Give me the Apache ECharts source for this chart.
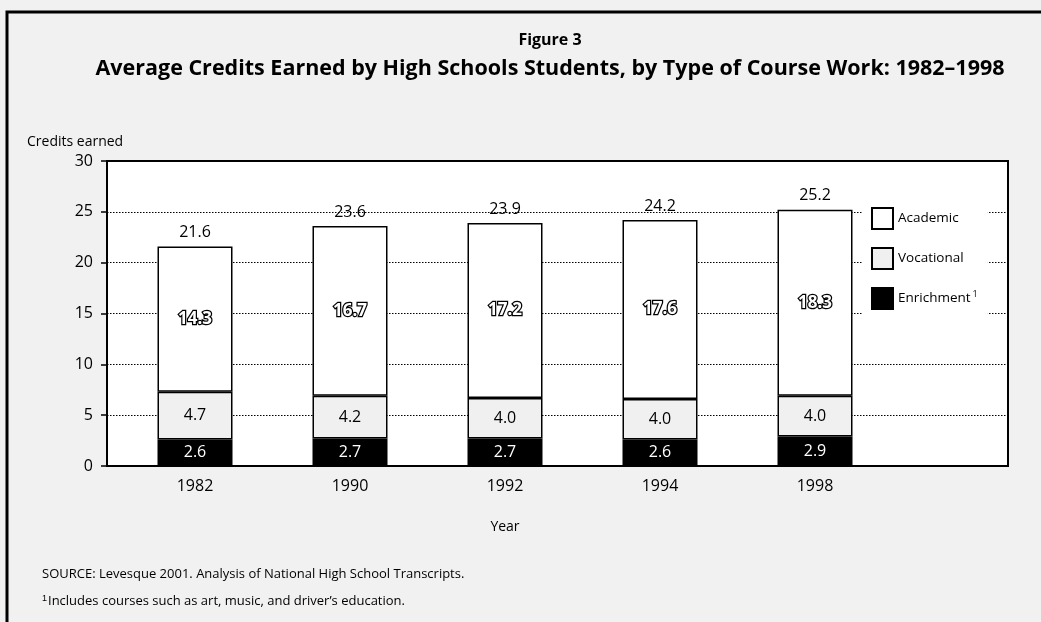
<!DOCTYPE html>
<html>
<head>
<meta charset="utf-8">
<style>
  html, body { margin: 0; padding: 0; background: #f1f1f1; }
  #chart { width: 1041px; height: 622px; }
</style>
<script src="https://cdn.jsdelivr.net/npm/echarts@6/dist/echarts.min.js"></script>
</head>
<body>
<div id="chart"></div>
<script>
// data
const years = ['1982', '1990', '1992', '1994', '1998'];
const enrichment = [2.6, 2.7, 2.7, 2.6, 2.9];
const vocational = [4.7, 4.2, 4.0, 4.0, 4.0];
const academic = [14.3, 16.7, 17.2, 17.6, 18.3];
const totals = [21.6, 23.6, 23.9, 24.2, 25.2];
const yTicks = [0, 5, 10, 15, 20, 25, 30];

const FONT = '"Open Sans", "Noto Sans", sans-serif';

let mychart = echarts.init(document.getElementById('chart'), null, { renderer: 'canvas' });

mychart.setOption({
    backgroundColor: '#f1f1f1',
    textStyle: { fontFamily: FONT, color: '#000' },
    animation: false,
    title: [
        {
            text: 'Figure 3',
            left: 545,
            textAlign: 'center',
            top: 27,
            textStyle: { fontSize: 16, fontWeight: 'bold', color: '#000', fontFamily: FONT }
        },
        {
            text: 'Average Credits Earned by High Schools Students, by Type of Course Work: 1982\u20131998',
            left: 545,
            textAlign: 'center',
            top: 53,
            textStyle: { fontSize: 21.5, fontWeight: 'bold', color: '#000', fontFamily: FONT }
        }
    ],
    legend: {
        orient: 'vertical',
        left: 862,
        top: 200,
        padding: [7, 10, 7, 9],
        backgroundColor: '#fff',
        icon: 'rect',
        itemWidth: 21,
        itemHeight: 21,
        itemGap: 17,
        data: ['Academic', 'Vocational', 'Enrichment'],
        formatter: function (name) {
            return name === 'Enrichment' ? 'Enrichment{sup|1}' : name
        },
        textStyle: {
            fontSize: 13.5,
            color: '#000',
            fontFamily: FONT,
            rich: { sup: { fontSize: 9, verticalAlign: 'top', padding: [0, 0, 8, 2] } }
        }
    },
    grid: [
        // the bordered box (gridlines span the legend area too)
        {
            left: 107, right: 33, top: 161, height: 305,
            show: true, backgroundColor: '#fff', borderColor: '#000', borderWidth: 2
        },
        // the bars
        { left: 117.5, width: 775, top: 161, height: 305 }
    ],
    xAxis: [
        { gridIndex: 0, type: 'value', show: false, min: 0, max: 1 },
        {
            gridIndex: 1,
            type: 'category',
            data: years,
            name: 'Year',
            nameLocation: 'middle',
            nameGap: 54,
            nameTextStyle: { fontSize: 14, color: '#000', fontFamily: FONT },
            axisLine: { show: false },
            axisTick: { show: false },
            axisLabel: { fontSize: 16, color: '#000', margin: 12, fontFamily: FONT }
        }
    ],
    yAxis: [
        {
            gridIndex: 0,
            type: 'value',
            min: 0, max: 30, interval: 5,
            name: 'Credits earned',
            nameLocation: 'end',
            nameGap: 12,
            nameTextStyle: { fontSize: 14, color: '#000', align: 'left', padding: [0, 0, 0, -80], fontFamily: FONT },
            axisLine: { show: true, lineStyle: { color: '#000', width: 2 } },
            axisTick: { show: true, length: 6, lineStyle: { color: '#000', width: 1.5 } },
            axisLabel: {
                fontSize: 16, color: '#000', margin: 14, fontFamily: FONT,
                formatter: v => yTicks.includes(v) ? String(v) : ''
            },
            splitLine: { show: true, lineStyle: { color: '#000', type: [1.5, 1.5], width: 1 } }
        },
        { gridIndex: 1, type: 'value', min: 0, max: 30, show: false }
    ],
    series: [
        {
            name: 'Enrichment',
            type: 'bar',
            stack: 'credits',
            xAxisIndex: 1, yAxisIndex: 1,
            barWidth: 75,
            data: enrichment,
            itemStyle: { color: '#000', borderColor: '#000', borderWidth: 1.5 },
            label: {
                show: true, position: 'inside', color: '#fff', fontSize: 16, fontFamily: FONT,
                formatter: p => p.value.toFixed(1)
            }
        },
        {
            name: 'Vocational',
            type: 'bar',
            stack: 'credits',
            xAxisIndex: 1, yAxisIndex: 1,
            data: vocational,
            itemStyle: { color: '#f0f0f0', borderColor: '#000', borderWidth: 1.5 },
            label: {
                show: true, position: 'inside', color: '#000', fontSize: 16, fontFamily: FONT,
                formatter: p => p.value.toFixed(1)
            }
        },
        {
            name: 'Academic',
            type: 'bar',
            stack: 'credits',
            xAxisIndex: 1, yAxisIndex: 1,
            data: academic,
            itemStyle: { color: '#fff', borderColor: '#000', borderWidth: 1.5 },
            label: {
                show: true, position: 'inside', color: '#fff', fontSize: 17, fontWeight: 'bold',
                textBorderColor: '#000', textBorderWidth: 2.5, fontFamily: FONT,
                formatter: p => p.value.toFixed(1)
            }
        },
        // total above each stack
        {
            name: 'Total',
            type: 'bar',
            stack: 'credits',
            xAxisIndex: 1, yAxisIndex: 1,
            data: totals.map(() => 0),
            itemStyle: { color: 'transparent' },
            label: {
                show: true, position: 'top', distance: 6, color: '#000', fontSize: 16, fontFamily: FONT,
                formatter: p => totals[p.dataIndex].toFixed(1)
            },
            tooltip: { show: false }
        }
    ],
    graphic: [
        // outer frame (left and top edges of the scanned figure)
        {
            type: 'polyline', z: 100,
            shape: { points: [[7, 622], [7, 12], [1041, 12]] },
            style: { stroke: '#000', lineWidth: 3, fill: null }
        },
        {
            type: 'text', left: 42, top: 568, z: 100,
            style: {
                text: 'SOURCE: Levesque 2001. Analysis of National High School Transcripts.',
                font: '13px ' + FONT, fill: '#000'
            }
        },
        {
            type: 'text', left: 42, top: 594, z: 100,
            style: {
                text: '{sup|1}Includes courses such as art, music, and driver\u2019s education.',
                font: '13px ' + FONT, fill: '#000',
                rich: { sup: { fontSize: 9, verticalAlign: 'top', padding: [0, 1, 6, 0] } }
            }
        }
    ]
})
</script>
</body>
</html>
